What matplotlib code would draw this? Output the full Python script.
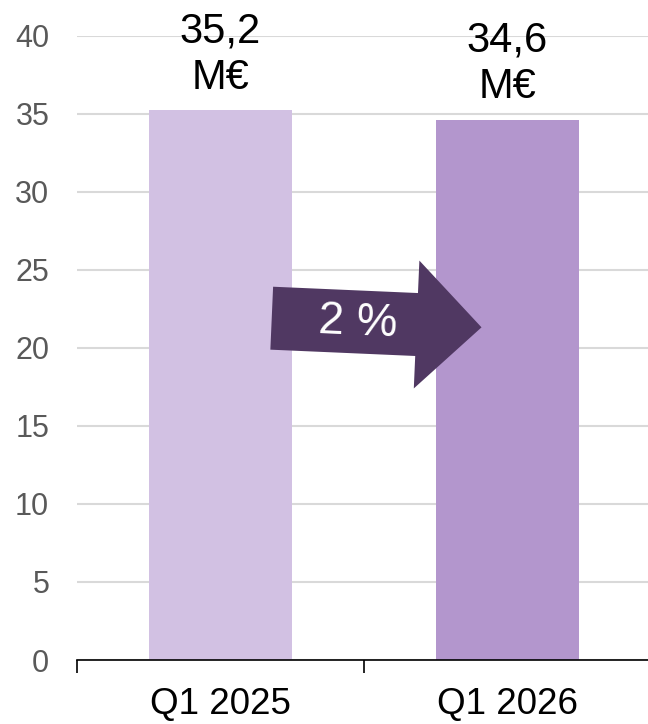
import numpy as np
import matplotlib.pyplot as plt
from matplotlib.patches import Polygon
from matplotlib.transforms import Affine2D, ScaledTranslation

plt.rcParams['font.family'] = ['Liberation Sans', 'DejaVu Sans']

# data
categories = ['Q1 2025', 'Q1 2026']
values = [35.2, 34.6]
bar_colors = ['#D2C1E3', '#B396CD']
arrow_color = '#503862'
y_ticks = [0, 5, 10, 15, 20, 25, 30, 35, 40]

change = round(abs(values[1] - values[0]) / values[0] * 100)

fig = plt.figure(figsize=(6.48, 7.24), dpi=100)
ax = fig.add_axes([77 / 648, 64 / 724, 574 / 648, (660 - 35.5) / 724])

x = np.arange(len(categories))
ax.bar(x, values, width=0.5, color=bar_colors, zorder=2)

for xi, v in zip(x, values):
    lab = ('%.1f' % v).replace('.', ',') + '\nM€'
    ax.annotate(lab, (xi, v), xytext=(0, 9), textcoords='offset points',
                ha='center', va='bottom', fontsize=30, linespacing=1.22,
                color='black')

ax.set_xlim(-0.5, 1.5)
ax.set_ylim(0, 40)
ax.set_yticks(y_ticks)
ax.tick_params(axis='y', length=0, pad=20, labelsize=22, labelcolor='#595959')
ax.yaxis.grid(True, color='#D9D9D9', linewidth=1.5, zorder=0)
ax.set_axisbelow(True)

ax.set_xticks([-0.5, 0.5, 1.5])
ax.set_xticklabels([])
ax.set_xticks(x, minor=True)
ax.set_xticklabels(categories, minor=True)
ax.tick_params(axis='x', which='major', length=9, width=1.2, direction='out', color='black')
ax.tick_params(axis='x', which='minor', length=0, pad=19.5, labelsize=26.5, labelcolor='black')

for s in ['top', 'right', 'left']:
    ax.spines[s].set_visible(False)
ax.spines['bottom'].set_color('black')
ax.spines['bottom'].set_linewidth(1.2)

# block arrow between the bars (shape in pixels, rotated slightly)
arrow_x, arrow_y = 0.544, 21.6
shape = [(-105, -31.5), (40, -31.5), (40, -64), (105, 0),
         (40, 64), (40, 31.5), (-105, 31.5)]
tr = Affine2D().rotate_deg(-2.5) + ScaledTranslation(arrow_x, arrow_y, ax.transData)
ax.add_patch(Polygon(shape, closed=True, transform=tr, facecolor=arrow_color,
                     edgecolor='none', zorder=3, clip_on=False))
ax.text(0.48, arrow_y, '%d %%' % change, ha='center', va='center', rotation=-2.5,
        fontsize=33, color='white', zorder=4)

fig.savefig('out.png', dpi=100)
